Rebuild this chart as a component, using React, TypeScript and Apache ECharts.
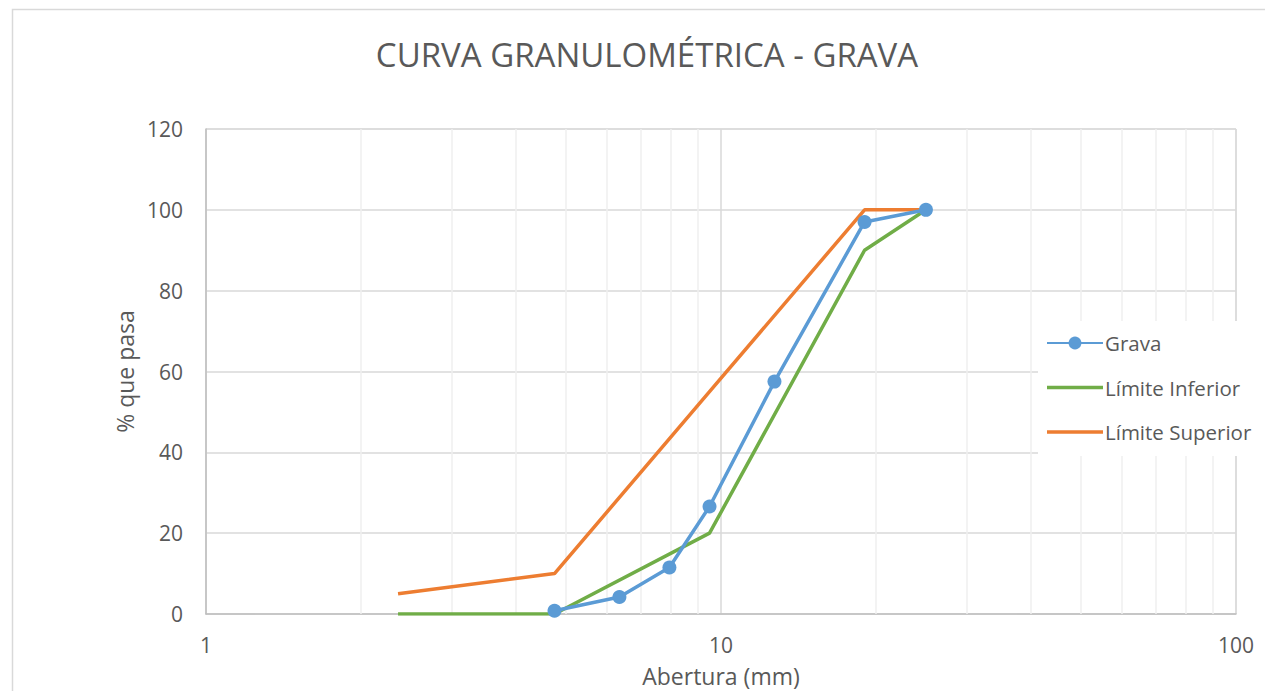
import React, { useEffect, useRef } from "react";
import * as echarts from "echarts";

const title = "CURVA GRANULOMÉTRICA - GRAVA";
const xName = "Abertura (mm)";
const yName = "% que pasa";

const gravaX = [4.75, 6.35, 7.94, 9.5, 12.7, 19, 25];
const gravaY = [0.8, 4.2, 11.5, 26.6, 57.5, 97, 100];

const infX = [2.36, 4.75, 9.5, 19, 25];
const infY = [0, 0, 20, 90, 100];

const supX = [2.36, 4.75, 9.5, 19, 25];
const supY = [5, 10, 55, 100, 100];

const minorGridX = [2, 3, 4, 5, 6, 7, 8, 9, 20, 30, 40, 50, 60, 70, 80, 90];

const FONT = "'Open Sans', 'Noto Sans', sans-serif";
const TXT = "#595959";
const LINE_ICON = "path://M0,0H56V3.5H0Z";

export default function App() {
  const ref = useRef<HTMLDivElement>(null);
  useEffect(() => {
    if (!ref.current) return;
    const chart = echarts.init(ref.current, undefined, { renderer: "svg" });
    const pairs = (xs: number[], ys: number[]) => xs.map((x, i) => [x, ys[i]]);
    chart.setOption({
      animation: false,
      backgroundColor: "#ffffff",
      textStyle: { fontFamily: FONT },
      title: {
        text: title,
        left: 642,
        top: 33,
        textAlign: "center",
        textStyle: { fontFamily: FONT, fontSize: 33, fontWeight: "normal", color: TXT },
      },
      graphic: [
        {
          type: "rect",
          shape: { x: 12.5, y: 9.5, width: 1300, height: 720 },
          style: { fill: "none", stroke: "#d9d9d9", lineWidth: 1.5 },
          silent: true,
          z: -1,
        },
      ],
      grid: {
        left: 206,
        right: 29,
        top: 129,
        bottom: 77,
        show: true,
        borderColor: "#d9d9d9",
        borderWidth: 1,
        containLabel: false,
        outerBoundsMode: "none",
      },
      legend: {
        orient: "vertical",
        left: 1038,
        top: 321,
        itemWidth: 56,
        itemHeight: 16,
        itemGap: 20.5,
        padding: [10, 6, 12, 8],
        backgroundColor: "#ffffff",
        textStyle: { fontFamily: FONT, fontSize: 20.5, lineHeight: 24, color: TXT, padding: [0, 0, 0, -3] },
        data: [
          { name: "Grava" },
          { name: "Límite Inferior", icon: LINE_ICON },
          { name: "Límite Superior", icon: LINE_ICON },
        ],
      },
      xAxis: {
        type: "log",
        logBase: 10,
        min: 1,
        max: 100,
        name: xName,
        nameLocation: "middle",
        nameGap: 50,
        nameTextStyle: { fontFamily: FONT, fontSize: 23, lineHeight: 24, color: TXT },
        axisLine: { show: true, lineStyle: { color: "#bfbfbf", width: 1.5 } },
        axisTick: { show: false },
        axisLabel: { fontFamily: FONT, fontSize: 21, color: TXT, margin: 20 },
        splitLine: { show: true, lineStyle: { color: "#d9d9d9", width: 1.5 } },
      },
      yAxis: {
        type: "value",
        min: 0,
        max: 120,
        interval: 20,
        name: yName,
        nameLocation: "middle",
        nameGap: 70,
        nameRotate: 90,
        nameTextStyle: { fontFamily: FONT, fontSize: 23, color: TXT },
        axisLine: { show: true, lineStyle: { color: "#bfbfbf", width: 1.5 } },
        axisTick: { show: false },
        axisLabel: { fontFamily: FONT, fontSize: 21, color: TXT, margin: 23 },
        splitLine: { show: true, lineStyle: { color: "#d9d9d9", width: 1.5 } },
      },
      series: [
        {
          name: "Grava",
          type: "line",
          data: pairs(gravaX, gravaY),
          symbol: "circle",
          symbolSize: 14,
          lineStyle: { color: "#5B9BD5", width: 3.5 },
          itemStyle: { color: "#5B9BD5" },
          z: 4,
          markLine: {
            silent: true,
            symbol: "none",
            label: { show: false },
            lineStyle: { color: "#efefef", width: 1.5, type: "solid" },
            data: minorGridX.map((v) => ({ xAxis: v })),
            z: 1,
          },
        },
        {
          name: "Límite Inferior",
          type: "line",
          data: pairs(infX, infY),
          showSymbol: false,
          symbol: "none",
          lineStyle: { color: "#70AD47", width: 3.5 },
          itemStyle: { color: "#70AD47" },
          z: 3,
        },
        {
          name: "Límite Superior",
          type: "line",
          data: pairs(supX, supY),
          showSymbol: false,
          symbol: "none",
          lineStyle: { color: "#ED7D31", width: 3.5 },
          itemStyle: { color: "#ED7D31" },
          z: 3,
        },
      ],
    });
    return () => chart.dispose();
  }, []);
  return (
    <div
      ref={ref}
      style={{ position: "absolute", left: 0, top: 0, width: 1265, height: 691 }}
    />
  );
}
